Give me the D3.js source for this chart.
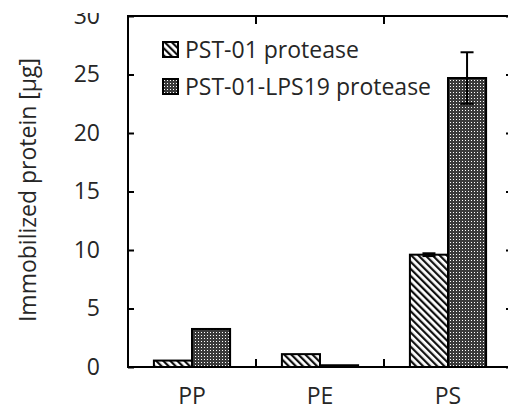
<!DOCTYPE html>
<html>
<head>
<meta charset="utf-8">
<script src="https://cdn.jsdelivr.net/npm/d3@7"></script>
<style>
  body { margin: 0; background: #fff; }
  svg { display: block; }
  text { font-family: "Open Sans", sans-serif; fill: #262626; }
</style>
</head>
<body>
<div id="chart-area"></div>
<script>
// data
const categories = ['PP', 'PE', 'PS'];
const seriesNames = ['PST-01 protease', 'PST-01-LPS19 protease'];
const pst01 = [0.55, 1.1, 9.6];
const pst01Err = [0, 0, 0.12];
const lps19 = [3.25, 0.15, 24.7];
const lps19Err = [0, 0, 2.2];
const yTicks = [0, 5, 10, 15, 20, 25, 30];

// Set Size for Chart (svg)
const W = 508, H = 410;
const margin = {left: 128, right: -4, top: 16, bottom: 43};
const width = W - margin.left - margin.right;
const height = H - margin.top - margin.bottom;

const svg = d3.select('#chart-area')
  .append('svg')
  .attr('width', W)
  .attr('height', H);

// fill patterns
const defs = svg.append('defs');
const hatch = defs.append('pattern')
  .attr('id', 'hatch')
  .attr('patternUnits', 'userSpaceOnUse')
  .attr('width', 5)
  .attr('height', 5)
  .attr('patternTransform', 'rotate(-45)');
hatch.append('rect').attr('width', 5).attr('height', 5).attr('fill', '#fff');
hatch.append('rect').attr('width', 2.2).attr('height', 5).attr('fill', '#111');

const dots = defs.append('pattern')
  .attr('id', 'dots')
  .attr('patternUnits', 'userSpaceOnUse')
  .attr('width', 3)
  .attr('height', 3);
dots.append('rect').attr('width', 3).attr('height', 3).attr('fill', '#3a3a3a');
dots.append('rect').attr('x', 1).attr('y', 1).attr('width', 1).attr('height', 1).attr('fill', '#fff');

defs.append('clipPath').attr('id', 'topclip')
  .append('rect').attr('x', -200).attr('y', -3).attr('width', 400).attr('height', height + 100);

const fills = ['url(#hatch)', 'url(#dots)'];

const g = svg.append('g')
  .attr('transform', `translate(${margin.left}, ${margin.top})`);

const x = d3.scaleBand()
  .domain(categories)
  .range([0, width]);

const xSub = d3.scaleBand()
  .domain(seriesNames)
  .range([0, x.bandwidth()])
  .paddingOuter(0.68);

const y = d3.scaleLinear()
  .domain([0, 30])
  .range([height, 0]);

// Y axis (left, ticks inside)
const yAxis = g.append('g')
  .attr('class', 'y-axis')
  .attr('clip-path', 'url(#topclip)')
  .call(d3.axisLeft(y).tickValues(yTicks).tickSizeInner(-6).tickSizeOuter(0).tickPadding(28));
yAxis.select('.domain').remove();
yAxis.selectAll('line').attr('stroke', '#000').attr('stroke-width', 2);
yAxis.selectAll('text').attr('font-size', '23px').attr('font-family', '"Open Sans", sans-serif').attr('fill', '#262626');

// right axis, ticks only
const yAxisR = g.append('g')
  .attr('transform', `translate(${width}, 0)`)
  .call(d3.axisRight(y).tickValues(yTicks).tickSizeInner(-6).tickSizeOuter(0).tickFormat(''));
yAxisR.select('.domain').remove();
yAxisR.selectAll('line').attr('stroke', '#000').attr('stroke-width', 2);

// X labels
const xAxis = g.append('g')
  .attr('transform', `translate(0, ${height})`)
  .call(d3.axisBottom(x).tickSize(0).tickPadding(21));
xAxis.select('.domain').remove();
xAxis.selectAll('text').attr('font-size', '23px').attr('font-family', '"Open Sans", sans-serif').attr('fill', '#262626');

// category boundary ticks, bottom and top
const bounds = categories.slice(1).map(c => x(c));
g.selectAll('.btick').data(bounds).enter().append('line')
  .attr('x1', d => d).attr('x2', d => d)
  .attr('y1', height).attr('y2', height - 8)
  .attr('stroke', '#000').attr('stroke-width', 2);
g.selectAll('.ttick').data(bounds).enter().append('line')
  .attr('x1', d => d).attr('x2', d => d)
  .attr('y1', 0).attr('y2', 8)
  .attr('stroke', '#000').attr('stroke-width', 2);

// bars
const series = [pst01, lps19];
const errs = [pst01Err, lps19Err];
series.forEach((vals, si) => {
  const name = seriesNames[si];
  const data = categories.map((c, i) => ({cat: c, v: vals[i], e: errs[si][i]}));
  g.selectAll('.bar-' + si).data(data).enter().append('rect')
    .attr('class', 'bar-' + si)
    .attr('x', d => x(d.cat) + xSub(name))
    .attr('y', d => y(d.v))
    .attr('width', xSub.bandwidth())
    .attr('height', d => y(0) - y(d.v))
    .attr('fill', fills[si])
    .attr('stroke', '#000')
    .attr('stroke-width', 2);

  const withErr = data.filter(d => d.e > 0);
  const cx = d => x(d.cat) + xSub(name) + xSub.bandwidth() / 2;
  g.selectAll('.err-' + si).data(withErr).enter().append('line')
    .attr('x1', cx).attr('x2', cx)
    .attr('y1', d => y(d.v - d.e)).attr('y2', d => y(d.v + d.e))
    .attr('stroke', '#000').attr('stroke-width', 2);
  [1, -1].forEach(sgn => {
    g.selectAll('.cap' + sgn + '-' + si).data(withErr).enter().append('line')
      .attr('x1', d => cx(d) - 6.5).attr('x2', d => cx(d) + 6.5)
      .attr('y1', d => y(d.v + sgn * d.e)).attr('y2', d => y(d.v + sgn * d.e))
      .attr('stroke', '#000').attr('stroke-width', 2);
  });
});

// frame
g.append('rect')
  .attr('width', width)
  .attr('height', height)
  .attr('fill', 'none')
  .attr('stroke', '#000')
  .attr('stroke-width', 2);

// Y label
g.append('text')
  .attr('x', -174)
  .attr('y', -92)
  .attr('font-size', '23px')
  .attr('text-anchor', 'middle')
  .attr('transform', 'rotate(-90)')
  .text('Immobilized protein [µg]');

// legend
const legend = g.append('g').attr('transform', 'translate(35, 26)');
seriesNames.forEach((s, i) => {
  const row = legend.append('g').attr('transform', `translate(0, ${i * 37})`);
  row.append('rect')
    .attr('x', 0).attr('y', 0)
    .attr('width', 15).attr('height', 15)
    .attr('fill', fills[i])
    .attr('stroke', '#000')
    .attr('stroke-width', 2);
  row.append('text')
    .attr('x', 22)
    .attr('y', 15.5)
    .attr('font-size', '23px')
    .text(s);
});
</script>
</body>
</html>
